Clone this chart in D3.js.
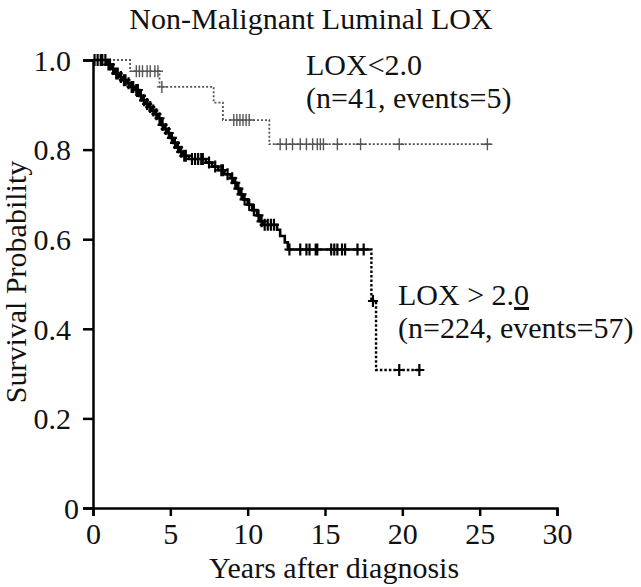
<!DOCTYPE html>
<html>
<head>
<meta charset="utf-8">
<script src="https://cdn.jsdelivr.net/npm/d3@7"></script>
<style>
  body { margin: 0; background: #fff; }
  svg text { font-family: "Liberation Serif", "Times New Roman", serif; fill: #111; }
</style>
</head>
<body>
<svg id="chart" width="641" height="587"></svg>
<script>
// Kaplan-Meier data
// LOX > 2.0 : event times (years) and survival after each event
const highTimes = [0.9, 1.2, 1.4, 1.7, 1.95, 2.2, 2.4, 2.7, 3.0, 3.2, 3.4, 3.6, 3.8, 4.0, 4.2, 4.4, 4.6, 4.8,
  5.0, 5.2, 5.4, 5.6, 5.8, 6.2, 7.3, 7.7, 8.1, 8.5, 8.9, 9.1, 9.3, 9.5, 9.7, 10.0, 10.3, 10.6, 10.8, 11.0,
  11.9, 12.1, 12.4, 12.6, 18.0, 18.3];
const highSurv = [0.99, 0.98, 0.97, 0.962, 0.955, 0.948, 0.94, 0.933, 0.92, 0.91, 0.902, 0.895, 0.887, 0.879,
  0.87, 0.855, 0.846, 0.837, 0.826, 0.815, 0.805, 0.795, 0.786, 0.779, 0.771, 0.762, 0.754, 0.745, 0.736,
  0.726, 0.713, 0.70, 0.689, 0.677, 0.665, 0.653, 0.64, 0.632, 0.621, 0.607, 0.593, 0.577, 0.462, 0.308];
const highCensored = [0.1, 0.3, 0.5, 0.6, 0.8, 1.0, 1.1, 1.3, 1.5, 1.6, 1.8, 2.0, 2.1, 2.3, 2.5, 2.6, 2.8, 2.9,
  3.1, 3.3, 3.5, 3.7, 3.9, 4.1, 4.3, 4.5, 4.7, 4.9, 5.1, 5.3, 5.5, 5.7, 5.9, 6.0, 6.4, 6.6, 6.8, 7.0, 7.1,
  7.5, 7.9, 8.3, 8.4, 8.7, 9.0, 9.2, 9.4, 9.6, 9.8, 10.1, 10.4, 10.7, 10.9, 11.1, 11.3, 11.5, 11.7,
  12.7, 13.4, 13.8, 14.0, 14.4, 14.5, 15.4, 15.6, 15.8, 16.1, 16.3, 17.1, 17.5, 18.1, 19.8, 21.1];
const highEnd = 21.2;
const highDottedFrom = 17.9;

// LOX < 2.0
const lowTimes = [2.4, 4.3, 7.8, 8.4, 11.4];
const lowSurv = [0.975, 0.94, 0.905, 0.866, 0.812];
const lowCensored = [2.8, 3.0, 3.2, 3.5, 3.7, 4.0, 4.2, 4.45, 9.1, 9.3, 9.5, 9.7, 9.9, 10.1,
  12.1, 12.5, 12.9, 13.4, 13.8, 14.2, 14.5, 14.7, 14.9, 15.8, 17.3, 19.8, 25.5];
const lowEnd = 25.7;

const xTicks = [0, 5, 10, 15, 20, 25, 30];
const yTicks = [0, 0.2, 0.4, 0.6, 0.8, 1.0];
const yTickLabels = ["0", "0.2", "0.4", "0.6", "0.8", "1.0"];

const svg = d3.select("#chart");
const x = d3.scaleLinear().domain([0, 30]).range([93, 557]);
const y = d3.scaleLinear().domain([0, 1]).range([508, 60]);

// survival value at time t
function survAt(times, surv, t) {
  let s = 1;
  for (let i = 0; i < times.length; i++) if (times[i] <= t) s = surv[i];
  return s;
}
function stepPoints(times, surv, end) {
  const pts = [[0, 1]];
  times.forEach((t, i) => pts.push([t, surv[i]]));
  pts.push([end, surv[surv.length - 1]]);
  return pts;
}

const line = d3.line().x(d => x(d[0])).y(d => y(d[1])).curve(d3.curveStepAfter);

// axes
const xAxis = svg.append("g").attr("transform", "translate(0,508)")
  .call(d3.axisBottom(x).tickValues(xTicks).tickSize(8).tickPadding(5).tickFormat(d3.format("d")));
const yAxis = svg.append("g").attr("transform", "translate(93,0)")
  .call(d3.axisLeft(y).tickValues(yTicks).tickSize(10).tickPadding(12).tickFormat((d, i) => yTickLabels[i]));
[xAxis, yAxis].forEach(a => {
  a.select(".domain").attr("stroke", "#000").attr("stroke-width", 2.5);
  a.selectAll(".tick line").attr("stroke", "#000").attr("stroke-width", 2.5);
  a.selectAll(".tick text").attr("font-size", 30).attr("fill", "#111")
    .attr("font-family", "Liberation Serif, Times New Roman, serif");
});
xAxis.selectAll(".tick text").attr("dy", "0.75em");
yAxis.selectAll(".tick text").attr("dy", "0.34em")
  .attr("dx", d => d === 0 ? 8 : 0);

// LOX < 2.0 curve (gray dotted)
const lowPts = stepPoints(lowTimes, lowSurv, lowEnd);
svg.append("path").attr("d", line(lowPts)).attr("fill", "none")
  .attr("stroke", "#555").attr("stroke-width", 1.8).attr("stroke-dasharray", "2,2");

// LOX > 2.0 curve (black, solid then dotted)
const highPts = stepPoints(highTimes, highSurv, highEnd);
const solidPts = highPts.filter(p => p[0] < highDottedFrom);
solidPts.push([highDottedFrom, survAt(highTimes, highSurv, highDottedFrom)]);
const dotPts = [[highDottedFrom, survAt(highTimes, highSurv, highDottedFrom)]]
  .concat(highPts.filter(p => p[0] >= highDottedFrom));
svg.append("path").attr("d", line(solidPts)).attr("fill", "none")
  .attr("stroke", "#000").attr("stroke-width", 2.6);
svg.append("path").attr("d", line(dotPts)).attr("fill", "none")
  .attr("stroke", "#000").attr("stroke-width", 2.4).attr("stroke-dasharray", "2.5,2");

// censor marks
function cross(g, times, surv, cens, color, w, hw, hh) {
  const d = cens.map(t => {
    const cx = x(t), cy = y(survAt(times, surv, t));
    return `M${cx - hw},${cy}H${cx + hw}M${cx},${cy - hh}V${cy + hh}`;
  }).join("");
  g.append("path").attr("d", d).attr("stroke", color).attr("stroke-width", w).attr("fill", "none");
}
cross(svg, lowTimes, lowSurv, lowCensored, "#555", 1.4, 5, 6);
cross(svg, highTimes, highSurv, highCensored, "#000", 2.2, 5, 6);

// texts
svg.append("text").attr("x", 311).attr("y", 29).attr("text-anchor", "middle")
  .attr("font-size", 30).text("Non-Malignant Luminal LOX");
svg.append("text").attr("x", 334).attr("y", 578).attr("text-anchor", "middle")
  .attr("font-size", 30).text("Years after diagnosis");
svg.append("text").attr("transform", "translate(26,282) rotate(-90)").attr("text-anchor", "middle")
  .attr("font-size", 30).text("Survival Probability");

svg.append("text").attr("x", 306).attr("y", 75).attr("font-size", 30).text("LOX<2.0");
svg.append("text").attr("x", 306).attr("y", 108).attr("font-size", 30).text("(n=41, events=5)");
const t2 = svg.append("text").attr("x", 398).attr("y", 305).attr("font-size", 30);
t2.append("tspan").text("LOX > 2.");
t2.append("tspan").attr("text-decoration", "underline").text("0");
svg.append("text").attr("x", 398).attr("y", 338).attr("font-size", 30).text("(n=224, events=57)");
</script>
</body>
</html>
